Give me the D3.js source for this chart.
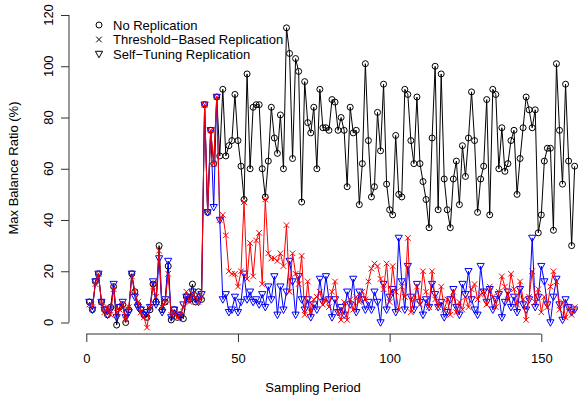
<!DOCTYPE html>
<html>
<head>
<meta charset="utf-8">
<script src="https://cdn.jsdelivr.net/npm/d3@7"></script>
<style>
  body { margin: 0; background: #fff; }
  svg { display: block; font-family: "Liberation Sans", Arial, Helvetica, sans-serif; }
</style>
</head>
<body>
<svg id="chart" width="578" height="400"></svg>
<script>
// values, sampling periods 1..161
const noReplication = [8,5,16,19,8,5,3,6,14,-1, 6,7,0,5,19,12,7,5,3,2, 5,15,8,30,5,8,22,1,5,2,
  3,1.5,10,9,15,8,12,9,85,43, 75,62,88,65,91,65,69,71,89,71, 61,48,97,60,84,85,85,60,49,63,
  84,72,66,81,60,115,105,64,103,98, 47,94,78,74,84,60,91,76,76,75, 87,86,75,80,75,53,84,74,75,46,
  62,101,71,49,53,82,67,93,54,44, 42,73,50,49,91,89,71,62,88,62, 55,48,37,72,100,44,97,56,44,37,
  56,63,46,69,57,72,90,71,43,56, 61,87,42,91,89,60,76,59,62,71, 75,50,64,76,88,83,76,83,35,42,
  63,68,68,36,101,75,54,93,63,30, 61];
const thresholdBased = [7,6,15,19,8,4,6,3,13,4, 5,7,1,6,18,12,8,4,2,-2, 6,14,10,28,6,8,19,3,4,2,
  3,6,12,8,11,10,8,10,85,43, 75,62,88,40,42,34,20,19,19,14, 20,47,17,31,18,32,35,15,48,27,
  25,25,24,27,22,38,12,27,19,15, 26,3,16,4,9,10,12,7,9,6, 12,16,4,1,8,1,9,5,10,8,
  12,9,16,21,23,22,17,13,23,8, 22,12,5,14,10,33,4,9,14,7, 20,12,6,20,9,6,14,5,9,3,
  12,4,8,5,10,6,13,15,9,11, 12,7,14,10,6,12,18,14,9,19, 13,7,16,9,1,10,20,8,13,4,
  10,6,14,20,16,5,8,2,6,3, 6];
const selfTuning = [8,5,16,19,8,5,3,5,15,2, 6,8,2,4,19,10,6,5,3,4, 6,16,7,25,4,9,24,2,5,3,
  2,7,10,9,12,9,8,11,85,43, 75,45,88,40,9,11,4,5,10,4, 8,19,9,12,8,9,7,11,6,14,
  9,18,3,14,5,12,24,16,3,18, 9,5,9,2,7,5,17,8,18,9, 2,9,4,6,3,12,7,17,4,12,
  9,5,8,5,12,8,0,15,5,10, 13,4,33,16,5,22,10,5,15,8, 3,9,6,15,11,6,8,2,4,9,
  13,6,3,15,11,20,9,5,3,22, 12,8,13,5,9,11,2,8,12,6, 10,4,13,7,5,9,33,6,10,22,
  16,7,0,10,17,7,1,9,6,4, 5];

const xTicks = [0, 50, 100, 150];
const yTicks = [0, 20, 40, 60, 80, 100, 120];
const legendLabels = ["No Replication", "Threshold\u2212Based Replication", "Self\u2212Tuning Replication"];

const svg = d3.select("#chart");

const x = d3.scaleLinear().domain([0, 150]).range([86.3, 541.3]);
const y = d3.scaleLinear().domain([0, 120]).range([322.5, 15]);

const series = [
  {values: noReplication, color: "#000", shape: "circle"},
  {values: selfTuning, color: "#0000ff", shape: "tri"},
  {values: thresholdBased, color: "#ff0000", shape: "cross"}
];

function drawSymbol(g, shape, color, cx, cy) {
  if (shape == "circle") {
    g.append("circle").attr("cx", cx).attr("cy", cy).attr("r", 3)
      .attr("fill", "none").attr("stroke", color).attr("stroke-width", 1);
  } else if (shape == "tri") {
    const s = 3.6;
    g.append("path")
      .attr("d", `M${cx - s},${cy - s * 0.75}L${cx + s},${cy - s * 0.75}L${cx},${cy + s * 1.05}Z`)
      .attr("fill", "none").attr("stroke", color).attr("stroke-width", 1);
  } else {
    const s = 2.8;
    g.append("path")
      .attr("d", `M${cx - s},${cy - s}L${cx + s},${cy + s}M${cx - s},${cy + s}L${cx + s},${cy - s}`)
      .attr("fill", "none").attr("stroke", color).attr("stroke-width", 1);
  }
}

const line = d3.line().x((d, i) => x(i + 1)).y(d => y(d));

series.forEach(s => {
  const g = svg.append("g");
  g.append("path").datum(s.values)
    .attr("d", line)
    .attr("fill", "none")
    .attr("stroke", s.color)
    .attr("stroke-width", 1);
  s.values.forEach((v, i) => drawSymbol(g, s.shape, s.color, x(i + 1), y(v)));
});

// axes, R style
const xAxis = svg.append("g")
  .attr("transform", "translate(0,334)")
  .call(d3.axisBottom(x).tickValues(xTicks).tickSize(8).tickSizeOuter(0).tickPadding(12));
xAxis.selectAll("text").attr("font-size", 13).attr("fill", "#000");

const yAxis = svg.append("g")
  .attr("transform", "translate(69,0)")
  .call(d3.axisLeft(y).tickValues(yTicks).tickSize(8).tickSizeOuter(0).tickFormat(""));

svg.selectAll(".domain, .tick line").attr("stroke", "#333").attr("stroke-width", 1);
xAxis.select(".domain").attr("d", `M${x(0)},0H${x(150)}`);
yAxis.select(".domain").attr("d", `M0,${y(0)}V${y(120)}`);

yTicks.forEach(t => {
  svg.append("text")
    .attr("transform", `translate(53,${y(t)}) rotate(-90)`)
    .attr("text-anchor", "middle")
    .attr("font-size", 13)
    .text(t);
});

svg.append("text")
  .attr("x", 313).attr("y", 392)
  .attr("text-anchor", "middle")
  .attr("font-size", 13)
  .text("Sampling Period");

svg.append("text")
  .attr("transform", "translate(18,168) rotate(-90)")
  .attr("text-anchor", "middle")
  .attr("font-size", 13)
  .text("Max Balance Ratio (%)");

// legend
const shapes = ["circle", "cross", "tri"];
legendLabels.forEach((lab, i) => {
  const ly = 25 + i * 14.5;
  drawSymbol(svg, shapes[i], "#000", 99, ly);
  svg.append("text")
    .attr("x", 113).attr("y", ly + 4.5)
    .attr("font-size", 13)
    .text(lab);
});
</script>
</body>
</html>
